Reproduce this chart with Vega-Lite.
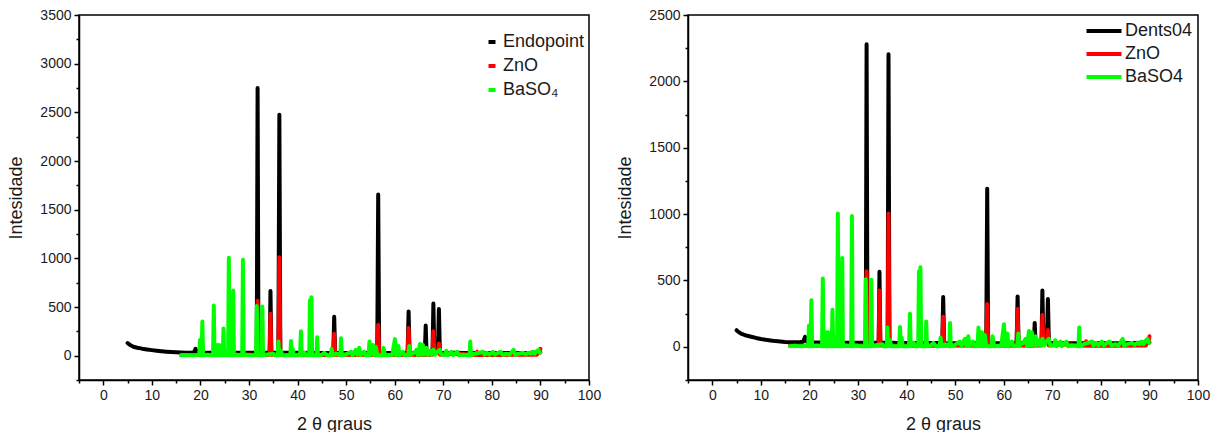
{
  "$schema": "https://vega.github.io/schema/vega-lite/v6.json",
  "padding": {"left": 7, "top": 7, "right": 0, "bottom": 0},
  "spacing": 14,
  "config": {
    "font": "Liberation Sans",
    "view": {"stroke": "black", "strokeWidth": 1.5},
    "axis": {
      "grid": false, "domainColor": "black", "domainWidth": 1.5,
      "tickColor": "black", "tickWidth": 1.5,
      "labelFont": "Liberation Sans", "labelFontSize": 14, "labelColor": "#1a1a1a",
      "labelFlush": false, "labelOverlap": false, "labelPadding": 3,
      "titleFont": "Liberation Sans", "titleFontSize": 18, "titleFontWeight": "normal", "titleColor": "#1a1a1a"
    },
    "legend": {
      "labelFont": "Liberation Sans", "labelFontSize": 18, "labelColor": "#1a1a1a",
      "symbolType": "stroke", "symbolStrokeWidth": 4, "padding": 0, "title": null
    }
  },
  "datasets": {
    "endo": [
      {"x":5,"y":130},{"x":5.3,"y":118},{"x":5.7,"y":104},{"x":6.2,"y":92},{"x":7,"y":82},{"x":8,"y":72},{"x":9,"y":64},{"x":10,"y":57},{"x":11,"y":51},{"x":12,"y":46},{"x":13,"y":41},{"x":14,"y":37},{"x":15,"y":34},{"x":16,"y":32},{"x":17,"y":31},{"x":18,"y":31},{"x":18.7,"y":34},{"x":19.0,"y":70},{"x":19.3,"y":36},{"x":20,"y":32},{"x":21,"y":30},{"x":22,"y":31},{"x":23,"y":29},{"x":24,"y":30},{"x":25,"y":29},{"x":26,"y":30},{"x":27,"y":29},{"x":28,"y":30},{"x":29,"y":29},{"x":30,"y":30},{"x":31.6,"y":30},{"x":31.77,"y":2750},{"x":31.95,"y":32},{"x":33,"y":30},{"x":34.25,"y":30},{"x":34.42,"y":665},{"x":34.6,"y":32},{"x":35.5,"y":30},{"x":36.05,"y":30},{"x":36.25,"y":2475},{"x":36.45,"y":33},{"x":37.5,"y":30},{"x":39,"y":29},{"x":41,"y":29},{"x":43,"y":28},{"x":45,"y":28},{"x":47.35,"y":28},{"x":47.54,"y":400},{"x":47.73,"y":29},{"x":49,"y":28},{"x":51,"y":27},{"x":53,"y":27},{"x":55,"y":27},{"x":56.4,"y":27},{"x":56.6,"y":1655},{"x":56.8,"y":28},{"x":58,"y":27},{"x":60,"y":27},{"x":62.65,"y":27},{"x":62.86,"y":455},{"x":63.05,"y":28},{"x":64.5,"y":27},{"x":66.2,"y":27},{"x":66.38,"y":310},{"x":66.56,"y":28},{"x":67.78,"y":30},{"x":67.96,"y":535},{"x":68.15,"y":60},{"x":68.4,"y":40},{"x":68.9,"y":40},{"x":69.1,"y":480},{"x":69.3,"y":30},{"x":70.5,"y":27},{"x":72.6,"y":30},{"x":74,"y":27},{"x":77,"y":28},{"x":80,"y":28},{"x":83,"y":28},{"x":86,"y":28},{"x":88,"y":29},{"x":90,"y":35}
    ],
    "dents": [
      {"x":5,"y":125},{"x":5.3,"y":115},{"x":5.7,"y":105},{"x":6.2,"y":95},{"x":7,"y":85},{"x":8,"y":76},{"x":9,"y":67},{"x":10,"y":59},{"x":11,"y":53},{"x":12,"y":48},{"x":13,"y":43},{"x":14,"y":40},{"x":15,"y":37},{"x":16,"y":35},{"x":17,"y":34},{"x":18,"y":34},{"x":18.7,"y":38},{"x":19.1,"y":75},{"x":19.5,"y":38},{"x":20,"y":35},{"x":22,"y":33},{"x":24,"y":31},{"x":26,"y":31},{"x":28,"y":30},{"x":30,"y":30},{"x":31.6,"y":30},{"x":31.77,"y":2280},{"x":31.95,"y":32},{"x":33,"y":30},{"x":34.25,"y":30},{"x":34.42,"y":565},{"x":34.6,"y":32},{"x":36.1,"y":30},{"x":36.28,"y":2205},{"x":36.47,"y":33},{"x":38,"y":29},{"x":41,"y":28},{"x":44,"y":28},{"x":47.35,"y":28},{"x":47.54,"y":375},{"x":47.73,"y":29},{"x":50,"y":27},{"x":53,"y":27},{"x":56.4,"y":27},{"x":56.6,"y":1190},{"x":56.8,"y":28},{"x":59,"y":27},{"x":62.65,"y":27},{"x":62.86,"y":380},{"x":63.05,"y":28},{"x":66.2,"y":27},{"x":66.38,"y":180},{"x":66.56,"y":28},{"x":67.78,"y":30},{"x":67.96,"y":425},{"x":68.15,"y":70},{"x":68.4,"y":50},{"x":68.9,"y":50},{"x":69.1,"y":360},{"x":69.3,"y":30},{"x":71,"y":27},{"x":75,"y":27},{"x":80,"y":27},{"x":85,"y":27},{"x":90,"y":33}
    ],
    "znoL": [
      {"x":16,"y":8},{"x":20,"y":8},{"x":25,"y":8},{"x":30,"y":9},{"x":31.6,"y":9},{"x":31.77,"y":565},{"x":31.95,"y":10},{"x":34.25,"y":9},{"x":34.42,"y":430},{"x":34.6,"y":10},{"x":36.05,"y":9},{"x":36.25,"y":1010},{"x":36.45,"y":10},{"x":40,"y":8},{"x":47.35,"y":8},{"x":47.54,"y":225},{"x":47.73,"y":9},{"x":56.4,"y":8},{"x":56.6,"y":318},{"x":56.8,"y":9},{"x":62.65,"y":8},{"x":62.86,"y":284},{"x":63.05,"y":9},{"x":66.2,"y":8},{"x":66.38,"y":70},{"x":66.56,"y":9},{"x":67.78,"y":10},{"x":67.96,"y":250},{"x":68.15,"y":40},{"x":68.9,"y":30},{"x":69.1,"y":125},{"x":69.3,"y":10},{"x":72.6,"y":20},{"x":76.8,"y":8},{"x":76.95,"y":40},{"x":77.1,"y":8},{"x":81.2,"y":8},{"x":81.4,"y":30},{"x":81.6,"y":8},{"x":89.3,"y":10},{"x":89.6,"y":40},{"x":89.8,"y":30},{"x":90,"y":70}
    ],
    "znoR": [
      {"x":16,"y":8},{"x":20,"y":8},{"x":25,"y":8},{"x":30,"y":9},{"x":31.6,"y":9},{"x":31.77,"y":570},{"x":31.95,"y":10},{"x":34.25,"y":9},{"x":34.42,"y":424},{"x":34.6,"y":10},{"x":36.1,"y":9},{"x":36.28,"y":1005},{"x":36.47,"y":10},{"x":40,"y":8},{"x":47.35,"y":8},{"x":47.54,"y":227},{"x":47.73,"y":9},{"x":56.4,"y":8},{"x":56.6,"y":323},{"x":56.8,"y":9},{"x":62.65,"y":8},{"x":62.86,"y":285},{"x":63.05,"y":9},{"x":66.2,"y":8},{"x":66.38,"y":70},{"x":66.56,"y":9},{"x":67.78,"y":10},{"x":67.96,"y":240},{"x":68.15,"y":40},{"x":68.9,"y":30},{"x":69.1,"y":127},{"x":69.3,"y":10},{"x":72.6,"y":20},{"x":76.8,"y":8},{"x":76.95,"y":42},{"x":77.1,"y":8},{"x":81.2,"y":8},{"x":81.4,"y":30},{"x":81.6,"y":8},{"x":89.3,"y":10},{"x":89.6,"y":45},{"x":89.8,"y":35},{"x":90,"y":80}
    ],
    "baso4": [
      {"x":16.0,"y":5},{"x":17,"y":8},{"x":18,"y":5},{"x":19.5,"y":8},{"x":19.75,"y":5},{"x":19.9,"y":160},{"x":20.05,"y":5},{"x":20.25,"y":5},{"x":20.4,"y":350},{"x":20.55,"y":5},{"x":21.5,"y":10},{"x":22.6,"y":5},{"x":22.75,"y":515},{"x":22.9,"y":5},{"x":23.4,"y":5},{"x":23.55,"y":110},{"x":23.7,"y":5},{"x":23.85,"y":110},{"x":24.0,"y":5},{"x":24.6,"y":5},{"x":24.75,"y":280},{"x":24.9,"y":5},{"x":25.7,"y":5},{"x":25.85,"y":1005},{"x":26.0,"y":5},{"x":26.6,"y":5},{"x":26.75,"y":670},{"x":26.9,"y":5},{"x":27.5,"y":10},{"x":28.6,"y":5},{"x":28.75,"y":985},{"x":28.9,"y":5},{"x":29.5,"y":10},{"x":30.5,"y":5},{"x":31.45,"y":5},{"x":31.6,"y":510},{"x":31.75,"y":5},{"x":32.6,"y":5},{"x":32.75,"y":505},{"x":32.9,"y":5},{"x":33.5,"y":10},{"x":35.0,"y":20},{"x":35.2,"y":5},{"x":35.9,"y":5},{"x":36.05,"y":145},{"x":36.2,"y":5},{"x":36.6,"y":50},{"x":36.8,"y":5},{"x":37.8,"y":5},{"x":38.5,"y":5},{"x":38.65,"y":150},{"x":38.8,"y":5},{"x":39.0,"y":70},{"x":39.2,"y":5},{"x":40.5,"y":5},{"x":40.7,"y":250},{"x":40.85,"y":5},{"x":41.5,"y":30},{"x":41.7,"y":5},{"x":42.4,"y":5},{"x":42.55,"y":570},{"x":42.7,"y":300},{"x":42.85,"y":600},{"x":43.0,"y":5},{"x":43.9,"y":5},{"x":44.05,"y":190},{"x":44.2,"y":5},{"x":45,"y":10},{"x":45.5,"y":30},{"x":46,"y":5},{"x":46.8,"y":5},{"x":47.0,"y":70},{"x":47.2,"y":5},{"x":48.0,"y":20},{"x":48.8,"y":5},{"x":48.95,"y":180},{"x":49.1,"y":5},{"x":50,"y":15},{"x":51.0,"y":40},{"x":51.3,"y":5},{"x":52.0,"y":60},{"x":52.3,"y":10},{"x":52.7,"y":80},{"x":53,"y":5},{"x":53.7,"y":40},{"x":54,"y":5},{"x":54.6,"y":5},{"x":54.8,"y":145},{"x":55.0,"y":5},{"x":55.5,"y":110},{"x":55.8,"y":5},{"x":56.1,"y":90},{"x":56.4,"y":5},{"x":57.5,"y":5},{"x":57.7,"y":80},{"x":58.0,"y":5},{"x":59.5,"y":10},{"x":60.05,"y":170},{"x":60.3,"y":5},{"x":60.75,"y":100},{"x":61.0,"y":5},{"x":61.7,"y":40},{"x":62.0,"y":5},{"x":62.8,"y":10},{"x":63.0,"y":100},{"x":63.2,"y":10},{"x":64.0,"y":30},{"x":64.5,"y":60},{"x":64.8,"y":5},{"x":65.2,"y":120},{"x":65.5,"y":10},{"x":65.8,"y":110},{"x":66.0,"y":10},{"x":66.5,"y":80},{"x":66.8,"y":10},{"x":67.3,"y":50},{"x":67.6,"y":10},{"x":68.0,"y":60},{"x":68.3,"y":10},{"x":68.8,"y":40},{"x":69.3,"y":60},{"x":69.6,"y":10},{"x":70.4,"y":10},{"x":70.6,"y":50},{"x":70.9,"y":5},{"x":71.7,"y":40},{"x":72.0,"y":5},{"x":72.9,"y":40},{"x":73.2,"y":5},{"x":74,"y":10},{"x":75.4,"y":5},{"x":75.55,"y":145},{"x":75.7,"y":5},{"x":76.5,"y":20},{"x":77.4,"y":30},{"x":78.2,"y":40},{"x":78.5,"y":10},{"x":79.0,"y":30},{"x":79.5,"y":10},{"x":80.2,"y":40},{"x":80.6,"y":10},{"x":81.3,"y":30},{"x":81.8,"y":40},{"x":82.2,"y":10},{"x":83.0,"y":20},{"x":83.6,"y":10},{"x":84.5,"y":60},{"x":84.8,"y":10},{"x":85.5,"y":20},{"x":86.4,"y":30},{"x":87,"y":15},{"x":87.5,"y":30},{"x":88.0,"y":20},{"x":88.4,"y":40},{"x":88.8,"y":20},{"x":89.3,"y":50},{"x":89.6,"y":60},{"x":89.9,"y":30}
    ]
  },
  "resolve": {"scale": {"color": "independent", "x": "independent", "y": "independent"}, "legend": {"color": "independent"}},
  "hconcat": [
    {
      "width": 510, "height": 365,
      "encoding": {
        "x": {"field": "x", "type": "quantitative", "scale": {"domain": [-5, 100], "nice": false, "zero": false},
          "axis": {"title": "2 θ graus", "format": "d", "titlePadding": 13,
            "values": [-5,0,5,10,15,20,25,30,35,40,45,50,55,60,65,70,75,80,85,90,95,100],
            "labelExpr": "datum.value % 10 === 0 ? datum.label : ''",
            "tickSize": {"condition": {"test": "datum.value % 10 === 0", "value": 5}, "value": 3}}},
        "y": {"field": "y", "type": "quantitative", "scale": {"domain": [-250, 3500], "nice": false, "zero": false},
          "axis": {"title": "Intesidade", "format": "d", "titlePadding": 14,
            "values": [-250,0,250,500,750,1000,1250,1500,1750,2000,2250,2500,2750,3000,3250,3500],
            "labelExpr": "datum.value % 500 === 0 && datum.value >= 0 ? datum.label : ''",
            "tickSize": {"condition": {"test": "datum.value % 500 === 0", "value": 5}, "value": 3}}}
      },
      "layer": [
        {"data": {"name": "endo"}, "mark": {"type": "line", "strokeWidth": 4, "strokeJoin": "round", "strokeCap": "round"},
          "encoding": {"color": {"datum": "Endopoint", "type": "nominal",
            "scale": {"domain": ["Endopoint", "ZnO", "BaSO₄"], "range": ["#000000", "#ff0000", "#00ff00"]},
            "legend": {"orient": "none", "legendX": 404, "legendY": 18, "symbolSize": 49, "rowPadding": 6, "labelOffset": 2}}}},
        {"data": {"name": "znoL"}, "mark": {"type": "line", "strokeWidth": 4, "strokeJoin": "round", "strokeCap": "round"},
          "encoding": {"color": {"datum": "ZnO", "type": "nominal"}}},
        {"data": {"name": "baso4"}, "mark": {"type": "line", "strokeWidth": 4, "strokeJoin": "round", "strokeCap": "round"},
          "encoding": {"color": {"datum": "BaSO₄", "type": "nominal"}}}
      ]
    },
    {
      "width": 510, "height": 365,
      "encoding": {
        "x": {"field": "x", "type": "quantitative", "scale": {"domain": [-5, 100], "nice": false, "zero": false},
          "axis": {"title": "2 θ graus", "format": "d", "titlePadding": 13,
            "values": [-5,0,5,10,15,20,25,30,35,40,45,50,55,60,65,70,75,80,85,90,95,100],
            "labelExpr": "datum.value % 10 === 0 ? datum.label : ''",
            "tickSize": {"condition": {"test": "datum.value % 10 === 0", "value": 5}, "value": 3}}},
        "y": {"field": "y", "type": "quantitative", "scale": {"domain": [-250, 2500], "nice": false, "zero": false},
          "axis": {"title": "Intesidade", "format": "d", "titlePadding": 14,
            "values": [-250,0,250,500,750,1000,1250,1500,1750,2000,2250,2500],
            "labelExpr": "datum.value % 500 === 0 && datum.value >= 0 ? datum.label : ''",
            "tickSize": {"condition": {"test": "datum.value % 500 === 0", "value": 5}, "value": 3}}}
      },
      "layer": [
        {"data": {"name": "dents"}, "mark": {"type": "line", "strokeWidth": 4, "strokeJoin": "round", "strokeCap": "round"},
          "encoding": {"color": {"datum": "Dents04", "type": "nominal",
            "scale": {"domain": ["Dents04", "ZnO", "BaSO4"], "range": ["#000000", "#ff0000", "#00ff00"]},
            "legend": {"orient": "none", "legendX": 407, "legendY": 7, "symbolType": "M-2.5,0H2.5", "symbolSize": 196, "rowPadding": 5, "labelOffset": 12}}}},
        {"data": {"name": "znoR"}, "mark": {"type": "line", "strokeWidth": 4, "strokeJoin": "round", "strokeCap": "round"},
          "encoding": {"color": {"datum": "ZnO", "type": "nominal"}}},
        {"data": {"name": "baso4"}, "mark": {"type": "line", "strokeWidth": 4, "strokeJoin": "round", "strokeCap": "round"},
          "encoding": {"color": {"datum": "BaSO4", "type": "nominal"}}}
      ]
    }
  ]
}
